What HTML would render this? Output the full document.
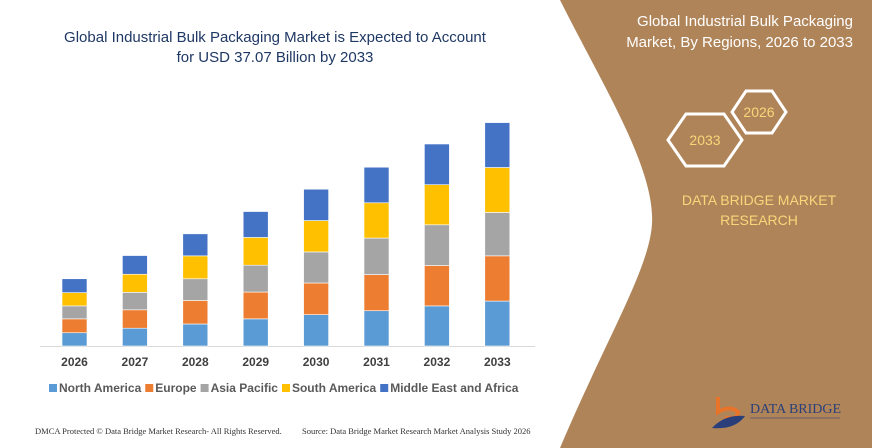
<!DOCTYPE html>
<html><head><meta charset="utf-8">
<style>
html,body{margin:0;padding:0;background:#fff;}
body{width:872px;height:448px;overflow:hidden;position:relative;font-family:"Liberation Sans",sans-serif;}
svg{position:absolute;left:0;top:0;}
</style></head>
<body>
<svg id="c" width="872" height="448" viewBox="0 0 872 448">
  <path d="M560,0 L872,0 L872,448 L560,448 C610,330 655,260 652,215 C650,160 600,80 560,0 Z" fill="#b08459"/>
  <text x="853" y="26" text-anchor="end" fill="#fff" font-size="15">Global Industrial Bulk Packaging</text>
  <text x="853" y="47" text-anchor="end" fill="#fff" font-size="15">Market, By Regions, 2026 to 2033</text>
  <polygon points="732,112 746,91 772,91 786,112 772,133 746,133" fill="none" stroke="#fff" stroke-width="3"/>
  <text x="759" y="117" text-anchor="middle" fill="#f7d77a" font-size="14">2026</text>
  <polygon points="668,140 686,114 724,114 742,140 724,166 686,166" fill="none" stroke="#fff" stroke-width="3"/>
  <text x="705" y="145" text-anchor="middle" fill="#f7d77a" font-size="14">2033</text>
  <text x="759" y="205" text-anchor="middle" fill="#f7d77a" font-size="14">DATA BRIDGE MARKET</text>
  <text x="759" y="225" text-anchor="middle" fill="#f7d77a" font-size="14">RESEARCH</text>
  <g>
    <path d="M718,397 L718,412 Q730,405 738,412 Q738,420 725,418" fill="none" stroke="#e8742a" stroke-width="4"/>
    <path d="M712,428 Q725,414 745,416 Q735,430 712,428 Z" fill="#2a3f7a"/>
    <text x="750" y="413" fill="#2a3f7a" font-size="14" font-family="Liberation Serif,serif">DATA BRIDGE</text>
    <line x1="750" y1="418" x2="840" y2="418" stroke="#2a3f7a" stroke-width="0.5"/>
  </g>
  <text x="275" y="42" text-anchor="middle" fill="#1f3864" font-size="15">Global Industrial Bulk Packaging Market is Expected to Account</text>
  <text x="275" y="62" text-anchor="middle" fill="#1f3864" font-size="15">for USD 37.07 Billion by 2033</text>
  <line x1="40" y1="346.5" x2="535" y2="346.5" stroke="#d9d9d9" stroke-width="1"/>
  <g id="bars"></g>
  <g id="xlabels"></g>
  <g id="legend"></g>
  <text x="35" y="434" fill="#333" font-size="8.5" font-family="Liberation Serif,serif">DMCA Protected © Data Bridge Market Research-  All Rights Reserved.</text>
  <text x="302" y="434" fill="#333" font-size="8.5" font-family="Liberation Serif,serif">Source:  Data Bridge Market Research  Market Analysis Study 2026</text>
</svg>
<script>
const years = ["2026","2027","2028","2029","2030","2031","2032","2033"];
const seriesNames = ["North America","Europe","Asia Pacific","South America","Middle East and Africa"];
const seriesColors = ["#5b9bd5","#ed7d31","#a5a5a5","#ffc000","#4472c4"];
const northAmerica = [2.2,2.95,3.65,4.5,5.2,5.85,6.65,7.45];
const europe = [2.3,3.05,3.9,4.45,5.25,6.0,6.7,7.5];
const asiaPacific = [2.15,2.9,3.6,4.45,5.15,6.05,6.75,7.2];
const southAmerica = [2.2,3.0,3.8,4.6,5.2,5.85,6.65,7.45];
const middleEastAfrica = [2.3,3.1,3.65,4.3,5.2,5.9,6.75,7.45];
const series = [northAmerica,europe,asiaPacific,southAmerica,middleEastAfrica];

const NS="http://www.w3.org/2000/svg";
const baseY=346, pxPerUnit=6.03, x0=74.5, step=60.4, barW=25;
function xPos(i){return x0+i*step;}
function yScale(v){return v*pxPerUnit;}
const gb=document.getElementById('bars');
years.forEach((yr,i)=>{
  let acc=0;
  series.forEach((s,k)=>{
    const h=yScale(s[i]);
    const r=document.createElementNS(NS,'rect');
    r.setAttribute('x',xPos(i)-barW/2);
    r.setAttribute('y',baseY-yScale(acc)-h);
    r.setAttribute('width',barW);
    r.setAttribute('height',h);
    r.setAttribute('fill',seriesColors[k]);
    r.setAttribute('stroke','#fff');
    r.setAttribute('stroke-width','0.6');
    
    
    gb.appendChild(r);
    acc+=s[i];
  });
  const t=document.createElementNS(NS,'text');
  t.setAttribute('x',xPos(i));
  t.setAttribute('y',366);
  t.setAttribute('text-anchor','middle');
  t.setAttribute('font-size','12');
  t.setAttribute('font-weight','bold');
  t.setAttribute('fill','#404040');
  t.textContent=yr;
  
  
  document.getElementById('xlabels').appendChild(t);
});
const lg=document.getElementById('legend');
let lx=49;
seriesNames.forEach((n,k)=>{
  const sq=document.createElementNS(NS,'rect');
  sq.setAttribute('x',lx);sq.setAttribute('y',384);sq.setAttribute('width',8);sq.setAttribute('height',8);
  sq.setAttribute('fill',seriesColors[k]);
  
  
  lg.appendChild(sq);
  const t=document.createElementNS(NS,'text');
  t.setAttribute('x',lx+10);t.setAttribute('y',392);
  t.setAttribute('font-size','12');t.setAttribute('font-weight','bold');t.setAttribute('fill','#595959');
  t.textContent=n;
  
  
  lg.appendChild(t);
  lx+=10+t.getComputedTextLength()+4;
});
</script>
</body></html>
